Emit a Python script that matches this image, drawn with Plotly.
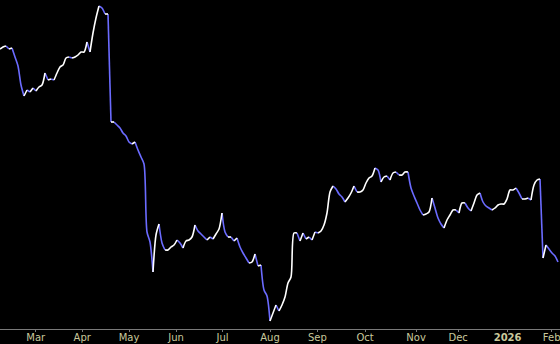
import plotly.graph_objects as go

# Session closes (arbitrary price units), one value per sampled session
close = [
    280, 282, 283, 280, 281, 272, 263, 244, 233, 239,
    237, 241, 238, 242, 244, 256, 249, 250, 249, 256,
    262, 264, 271, 272, 271, 272, 274, 277, 277, 287,
    277, 296, 311, 323, 321, 315, 315, 207, 207, 204,
    201, 196, 193, 187, 185, 187, 179, 172, 165, 97,
    87, 57, 94, 105, 86, 79, 79, 82, 84, 89,
    86, 81, 88, 89, 92, 104, 98, 95, 92, 89,
    92, 90, 95, 100, 116, 97, 92, 92, 88, 91,
    82, 76, 71, 66, 67, 75, 63, 64, 39, 33,
    8, 16, 24, 18, 24, 32, 46, 52, 96, 96,
    88, 96, 90, 92, 89, 97, 96, 98, 104, 116,
    137, 143, 140, 135, 132, 127, 131, 136, 143, 137,
    137, 139, 146, 151, 153, 161, 159, 147, 152, 153,
    149, 156, 157, 154, 154, 157, 157, 141, 133, 126,
    119, 114, 115, 117, 131, 121, 111, 105, 101, 109,
    114, 119, 119, 116, 126, 126, 121, 118, 126, 134,
    136, 127, 123, 121, 119, 121, 124, 125, 125, 130,
    139, 139, 141, 136, 130, 130, 131, 129, 144, 149,
    150, 71, 84, 80, 76, 73, 67,
]

# Month tick labels and their session positions
tick_labels = ["Mar", "Apr", "May", "Jun", "Jul", "Aug", "Sep", "Oct", "Nov", "Dec", "<b>2026</b>", "Feb"]
tick_pos = [11.9, 27.4, 43.0, 58.7, 74.2, 90.0, 105.8, 121.7, 138.7, 152.7, 169.2, 183.9]

UP_COLOR = "#ffffff"
DOWN_COLOR = "#6b6bff"

x = list(range(len(close)))

# split into monotone runs, colour by direction
up_x, up_y, dn_x, dn_y = [], [], [], []
i = 0
n = len(close)
while i < n - 1:
    up = close[i + 1] >= close[i]
    j = i
    while j < n - 1 and (close[j + 1] >= close[j]) == up:
        j += 1
    xs = x[i:j + 1]
    ys = close[i:j + 1]
    if up:
        up_x += xs + [None]
        up_y += ys + [None]
    else:
        dn_x += xs + [None]
        dn_y += ys + [None]
    i = j

fig = go.Figure()
fig.add_trace(go.Scatter(x=dn_x, y=dn_y, mode="lines",
                         line=dict(color=DOWN_COLOR, width=1.6, shape="spline", smoothing=0.8),
                         connectgaps=False, hoverinfo="skip", showlegend=False))
fig.add_trace(go.Scatter(x=up_x, y=up_y, mode="lines",
                         line=dict(color=UP_COLOR, width=1.6, shape="spline", smoothing=0.8),
                         connectgaps=False, hoverinfo="skip", showlegend=False))

fig.update_layout(
    width=560, height=344,
    margin=dict(l=0, r=0, t=0, b=15),
    paper_bgcolor="black", plot_bgcolor="black",
    xaxis=dict(range=[0, (len(close) - 1) * 560 / 558], showgrid=False, zeroline=False,
               showline=True, linecolor="#7a7a7a", linewidth=1,
               ticks="outside", ticklen=2, tickcolor="#7a7a7a",
               tickvals=tick_pos, ticktext=tick_labels,
               tickfont=dict(family="DejaVu Sans", size=10, color="#c8c89c"),
               ticklabelstandoff=-3, ticklabeloverflow="allow",
               automargin=False),
    yaxis=dict(range=[0, 329], visible=False, showgrid=False, zeroline=False),
)

fig.write_html("out.html")
